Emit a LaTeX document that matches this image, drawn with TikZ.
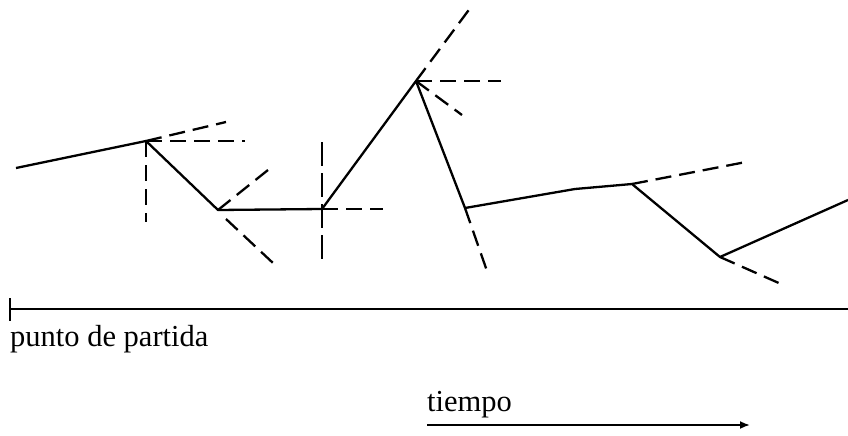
\documentclass[tikz,border=0pt]{standalone}
\usepackage{fontspec}
\setmainfont{Liberation Serif}
\usetikzlibrary{arrows.meta}
\begin{document}
\begin{tikzpicture}[x=1pt,y=-1pt,
  solidline/.style={line width=2.3pt, line join=round},
  guide/.style={line width=2.3pt, dash pattern=on 16pt off 8pt},
  longguide/.style={guide, dash pattern=on 24pt off 7pt},
  lbl/.style={font=\fontsize{30.5}{35}\selectfont, inner sep=0pt, anchor=base west}]
\useasboundingbox (0,0) rectangle (848,436);
% vertices of the path
\coordinate (S) at (16,168);
\coordinate (A) at (146,141);
\coordinate (B) at (218,210);
\coordinate (C) at (322,209);
\coordinate (D) at (416,81);
\coordinate (E) at (465,208);
\coordinate (E1) at (575,189);
\coordinate (F) at (632,184);
\coordinate (G) at (720,257);
\coordinate (T) at (848,200);
% free ends of the guides
\coordinate (Aext) at (226,122);
\coordinate (Ah) at (245,141);
\coordinate (Av) at (146,222);
\coordinate (Bs) at (226,219);
\coordinate (Bext) at (273,263);
\coordinate (Bup) at (273,166);
\coordinate (Cup) at (322,142);
\coordinate (Cdn) at (322,263);
\coordinate (Ch) at (383,209);
\coordinate (Dext) at (471,7);
\coordinate (Dh) at (501,81);
\coordinate (Dd) at (462,115);
\coordinate (Eext) at (487,271);
\coordinate (Fext) at (746,162);
\coordinate (Gext) at (781,284);
% main path
\draw[solidline] (S) -- (A) -- (B) -- (C) -- (D) -- (E) -- (E1) -- (F) -- (G) -- (T);
% guides
\draw[guide] (A) -- (Aext);
\draw[guide] (A) -- (Ah);
\draw[guide] (A) -- (Av);
\draw[guide] (Bs) -- (Bext);
\draw[guide] (B) -- (Bup);
\draw[longguide] (Cup) -- (Cdn);
\draw[guide] (C) -- (Ch);
\draw[guide] (D) -- (Dext);
\draw[guide] (D) -- (Dh);
\draw[guide] (D) -- (Dd);
\draw[guide] (E) -- (Eext);
\draw[guide] (F) -- (Fext);
\draw[guide] (G) -- (Gext);
% timeline
\coordinate (L0) at (10,309);
\coordinate (L1) at (848,309);
\coordinate (K0) at (10,298);
\coordinate (K1) at (10,321);
\draw[solidline] (L0) -- (L1);
\draw[solidline] (K0) -- (K1);
\node[lbl] (start) at (10,346) {punto de partida};
% time arrow
\node[lbl] (tiempo) at (427,411) {tiempo};
\coordinate (R0) at (427,425);
\coordinate (R1) at (750,425);
\draw[line width=1.8pt, -{Latex[length=10pt,width=8pt]}] (R0) -- (R1);
\end{tikzpicture}
\end{document}
